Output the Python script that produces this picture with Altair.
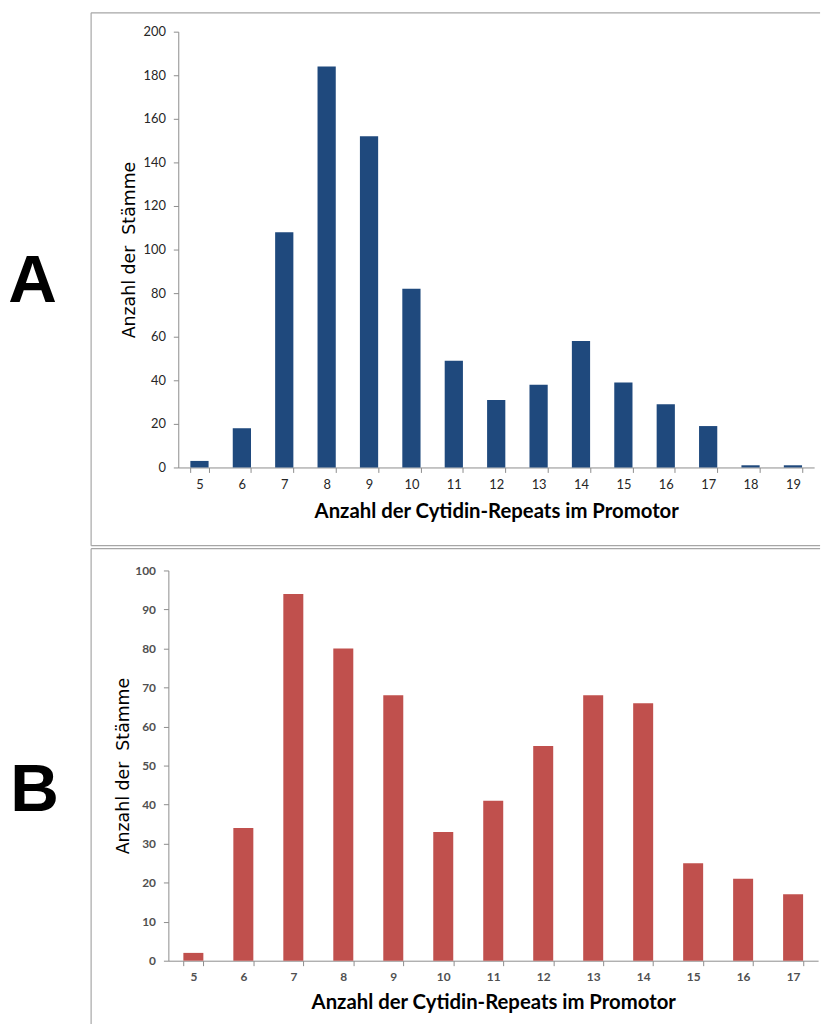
import altair as alt
import pandas as pd

# ---- data ----
repeats_a = [5, 6, 7, 8, 9, 10, 11, 12, 13, 14, 15, 16, 17, 18, 19]
counts_a = [3, 18, 108, 184, 152, 82, 49, 31, 38, 58, 39, 29, 19, 1, 1]
repeats_b = [5, 6, 7, 8, 9, 10, 11, 12, 13, 14, 15, 16, 17]
counts_b = [2, 34, 94, 80, 68, 33, 41, 55, 68, 66, 25, 21, 17]

x_title = "Anzahl der Cytidin-Repeats im Promotor"
y_title = "Anzahl der\u00a0 Stämme"

one = pd.DataFrame({"d": [0]})
FRAME = "#a6a6a6"


def hrule(x1, x2, y):
    return alt.Chart(one).mark_rule(color=FRAME, strokeWidth=1.2).encode(
        x=alt.value(x1), x2=alt.value(x2), y=alt.value(y))


def vrule(x, y1, y2):
    return alt.Chart(one).mark_rule(color=FRAME, strokeWidth=1.2).encode(
        x=alt.value(x), y=alt.value(y1), y2=alt.value(y2))


def panel(cats, vals, color, ymax, ystep, w, h, pin, letter, lx, ly,
          frame_layers, top, lab_size, lab_color, lab_weight,
          x_title_pad, y_title_pad, x_range, y_off):
    df = pd.DataFrame({"k": cats, "n": vals})
    xscale = alt.Scale(paddingInner=pin, paddingOuter=pin / 2, range=x_range)
    bars = alt.Chart(df).mark_bar(color=color).encode(
        x=alt.X("k:O", title=x_title, scale=xscale,
                axis=alt.Axis(labelAngle=0, tickBand="extent", grid=False,
                              domainColor="#8c8c8c", tickColor="#8c8c8c", tickSize=5,
                              labelFont="Lato", labelFontSize=lab_size, labelColor=lab_color,
                              labelFontWeight=lab_weight, labelPadding=6,
                              titleFont="Lato", titleFontSize=20.5, titleFontWeight="bold",
                              titleColor="#000000", titlePadding=x_title_pad)),
        y=alt.Y("n:Q", title=y_title,
                scale=alt.Scale(domain=[0, ymax], nice=False),
                axis=alt.Axis(values=list(range(0, ymax + 1, ystep)), grid=False,
                              offset=y_off,
                              domainColor="#8c8c8c", tickColor="#8c8c8c", tickSize=5,
                              labelFont="Lato", labelFontSize=lab_size, labelColor=lab_color,
                              labelFontWeight=lab_weight, labelPadding=8,
                              titleFont="DejaVu Sans", titleFontSize=17.5,
                              titleFontWeight="normal", titleColor="#000000",
                              titlePadding=y_title_pad)),
    )
    anchor = alt.Chart(one).mark_rect(opacity=0).encode(
        x=alt.value(-180), x2=alt.value(-179), y=alt.value(-top), y2=alt.value(0))
    lab = alt.Chart(one).mark_text(text=letter, font="Liberation Sans", fontSize=68,
                                   fontWeight="bold", color="#000000",
                                   align="center", baseline="middle").encode(
        x=alt.value(lx), y=alt.value(ly))
    return alt.layer(*frame_layers, anchor, bars, lab).properties(width=w, height=h)


frame_a = [hrule(-88, 648, -19), vrule(-88, -19, 519), hrule(-88, 648, 519)]
frame_b = [hrule(-88, 648, -22), vrule(-88, -22, 458)]

a = panel(repeats_a, counts_a, "#1F497D", 200, 20, 642, 440, 0.57, "A", -147, 253,
          frame_a, 27, 13, "#262626", "normal", 11, 5, [0, 642], 0)
b = panel(repeats_b, counts_b, "#C0504D", 100, 10, 646, 394, 0.6, "B", -145, 223,
          frame_b, 22, 12, "#505050", "bold", 10, 2, [-10, 646], 10)

chart = alt.vconcat(a, b, spacing=1).properties(
    padding=0, background="white"
).configure_view(stroke=None)

chart.save("out.html", embed_options={"renderer": "svg", "actions": False})
